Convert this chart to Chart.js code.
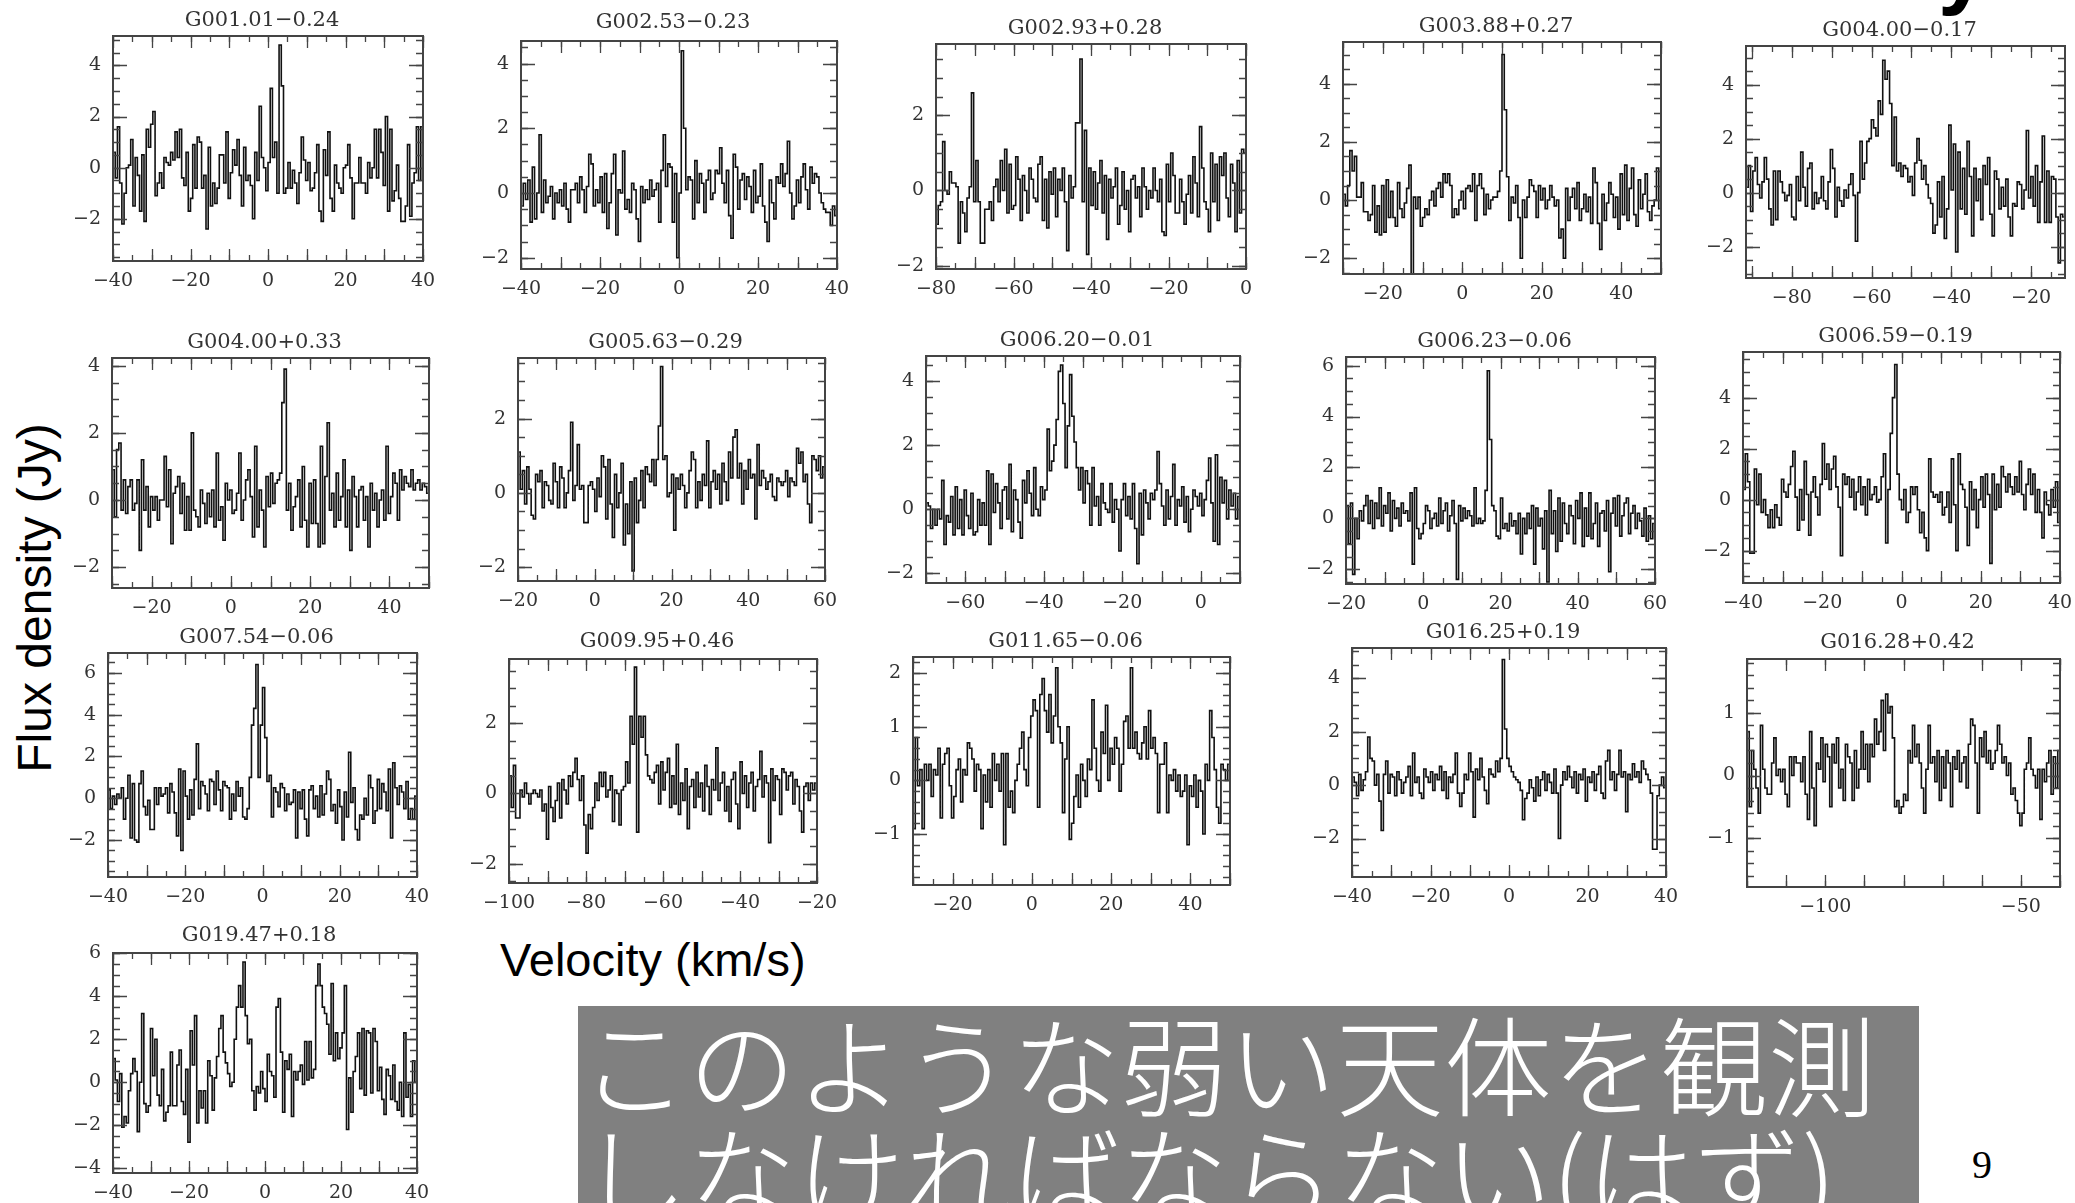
<!DOCTYPE html>
<html lang="ja">
<head>
<meta charset="UTF-8">
<title>OH maser spectra</title>
<script src="https://cdn.jsdelivr.net/npm/chart.js"></script>
<style>
  body { margin: 0; width: 2075px; height: 1203px; overflow: hidden; background: #fff; position: relative; }
  canvas.panel { position: absolute; }
  .ylab { position: absolute; left: 34px; top: 598px; transform: translate(-50%, -50%) rotate(-90deg);
          font: 48px "Liberation Sans", Arial, sans-serif; white-space: nowrap; color: #000; }
  .xlab { position: absolute; left: 500px; top: 936px; font: 47px/47px "Liberation Sans", Arial, sans-serif;
          white-space: nowrap; color: #000; }
  .note { position: absolute; left: 578px; top: 1006px; width: 1341px; height: 197px; background: #808080;
          overflow: hidden; }
  .note div { color: #fff; font: 300 108px/110px "Noto Sans CJK JP", sans-serif; white-space: nowrap; margin-left: 2px; }
  .page { position: absolute; left: 1972px; top: 1145px; font: 40px/40px "Liberation Serif", serif; color: #000; }
  .cut { position: absolute; left: 1938px; top: -79px; font: bold 90px/90px "Liberation Sans", Arial, sans-serif; color: #000; }
</style>
</head>
<body>
<div class="cut">y</div>
<div class="ylab">Flux density (Jy)</div>
<div class="xlab">Velocity (km/s)</div>
<div class="note"><div>このような弱い天体を観測</div><div>しなければならない(はず)</div></div>
<div class="page">9</div>

<script>
// source names, in reading order
const titles = [
  'G001.01\u22120.24', 'G002.53\u22120.23', 'G002.93+0.28', 'G003.88+0.27', 'G004.00\u22120.17',
  'G004.00+0.33', 'G005.63\u22120.29', 'G006.20\u22120.01', 'G006.23\u22120.06', 'G006.59\u22120.19',
  'G007.54\u22120.06', 'G009.95+0.46', 'G011.65\u22120.06', 'G016.25+0.19', 'G016.28+0.42',
  'G019.47+0.18'
];

// velocity span (km/s) and flux span (Jy) of every panel
const velRange = [[-40, 40], [-40, 40], [-80, 0], [-30, 50], [-91.5, -11.5],
  [-30, 50], [-20, 60], [-70, 10], [-20, 60], [-40, 40],
  [-40, 40], [-100, -20], [-30, 50], [-40, 40], [-120, -40], [-40, 40]];
const fluxRange = [[-3.65, 5.15], [-2.35, 4.7], [-2.09, 3.9], [-2.54, 5.43], [-3.16, 5.43],
  [-2.62, 4.23], [-2.37, 3.63], [-2.3, 4.78], [-2.58, 6.34], [-3.27, 5.79],
  [-3.77, 6.95], [-2.55, 3.83], [-1.95, 2.3], [-3.44, 5.13], [-1.78, 1.86], [-4.23, 6.02]];
const velLabelStep = [20, 20, 20, 20, 20, 20, 20, 20, 20, 20, 20, 20, 20, 20, 50, 20];
const fluxLabelStep = [2, 2, 2, 2, 2, 2, 2, 2, 2, 2, 2, 2, 1, 2, 1, 2];

// flux density per channel (Jy), channels evenly spread over velRange
const g001_01 = [
  0.6, -0.4, 1.6, -0.6, -2.2, -1.0, 0.0, 0.1, 1.1, -1.5,
  0.4, -0.3, -1.7, 0.5, -2.1, 1.5, 0.8, 1.7, 2.2, -1.1,
  -0.6, -0.2, -0.8, 0.4, 0.2, 0.1, 0.6, 0.3, 1.4, 0.4,
  1.5, -0.4, -0.7, 0.6, -1.7, -1.2, 0.9, -0.8, 1.2, 1.0,
  -0.8, -0.3, -2.4, 0.8, -1.5, -0.6, -1.4, -0.8, 0.5, 0.5,
  -0.6, 1.4, -1.2, -0.2, 0.7, 0.1, 1.1, -0.3, -1.5, 0.8,
  -0.5, -0.3, -0.7, -2.0, 0.6, -0.5, 2.4, 0.4, 0.0, -0.9,
  0.2, 3.1, 0.4, 1.0, -1.0, 4.8, 3.2, -1.0, -0.8, 0.2,
  -0.8, -0.1, -0.6, -1.4, -0.2, 1.2, 0.3, -0.5, 0.2, -0.9,
  -0.8, -0.2, 0.9, -1.7, -2.1, 0.7, -0.3, 1.4, -1.2, -1.7,
  0.1, -0.6, -0.8, -1.0, 0.0, 0.1, 0.9, -0.4, -2.0, -0.6,
  -0.6, 0.4, -0.6, -0.6, -1.0, 0.2, -0.4, 0.0, 1.5, -0.4,
  1.5, 0.6, -0.7, 2.0, -1.7, 1.5, -1.3, -0.9, 0.1, -1.2,
  -2.1, -2.1, -1.5, 0.9, -1.9, -0.6, -0.2, 1.6, -0.5, 1.6];
const g002_53 = [
  -0.4, 0.3, -0.2, 0.4, -0.9, 0.8, -0.8, 0.0, 1.8, -0.6,
  0.4, -0.3, -0.1, 0.2, -0.8, 0.0, -0.3, 0.1, -0.4, 0.3,
  -0.5, -0.9, 0.1, 0.1, 0.3, -0.3, 0.5, 0.1, -0.6, 0.2,
  1.2, 0.9, -0.4, 0.1, -0.3, 0.5, -0.6, 0.6, -1.1, -0.3,
  0.6, 1.2, -1.3, 0.1, 0.0, 1.3, -0.5, -0.2, -0.6, 0.3,
  0.1, -0.8, -1.5, 0.2, -0.3, 0.1, -0.2, 0.4, -0.1, 0.1,
  0.3, -0.9, 0.7, 1.8, 0.2, 0.9, 0.8, -0.9, 0.6, -2.0,
  0.0, 4.4, 2.0, 0.1, 0.5, 0.4, -0.8, 1.0, -0.3, 0.6,
  0.3, -0.6, 0.4, 0.7, -0.2, 0.0, 0.7, 0.6, 1.4, 0.3,
  -0.3, 0.7, -0.7, -1.4, 1.2, 0.8, -0.5, 0.4, 0.6, -0.2,
  0.5, 0.2, -0.6, 0.7, -0.3, -0.1, 0.9, -0.4, -0.9, -1.5,
  0.4, -0.3, -0.8, 0.5, 0.3, 0.9, 0.2, 0.6, 1.6, 0.0,
  -0.8, -0.4, 0.4, -0.3, 0.5, 0.9, 0.1, -0.5, 0.8, 0.3,
  0.6, 0.5, 0.0, -0.3, -0.5, -0.6, -0.6, -1.0, -0.4, -0.7];
const g002_93 = [
  -0.9, -0.4, -0.3, 1.3, 0.0, -0.1, 0.5, 0.2, 0.2, 0.1,
  -1.4, -0.3, -0.6, -1.1, -0.2, 0.1, 2.6, -0.3, 0.8, -0.3,
  -1.4, -1.4, -0.5, -0.5, -0.3, -0.8, 0.1, 0.3, -0.3, 0.8,
  0.0, 1.1, -0.6, 0.7, -0.5, -0.4, 0.9, 0.3, -0.8, 0.4,
  0.0, -0.6, 0.6, 0.3, -0.2, -0.3, 0.7, 0.9, -0.8, 0.3,
  -1.0, 0.5, -0.1, 0.6, -0.7, 0.3, 0.0, 0.6, -0.3, -1.6,
  0.4, -0.2, 0.1, 1.8, 1.8, 3.5, -0.3, 1.6, -1.7, 0.6,
  -0.4, 0.5, -0.5, 0.2, 0.8, -0.6, 0.4, -1.3, 0.3, -0.2,
  0.1, 0.6, -0.9, -0.4, 0.5, -0.5, 0.0, -1.1, 0.3, 0.4,
  -0.2, 0.1, -0.7, 0.6, 0.1, -0.5, 0.0, -0.2, 0.6, 0.0,
  -0.3, 0.3, -1.1, -1.2, 0.7, -0.3, 1.0, 0.4, -0.6, -0.6,
  0.3, -0.3, -0.9, -0.1, 0.4, -0.6, 0.9, 0.2, -0.7, 1.7,
  0.6, -0.3, -0.5, -1.1, 1.0, -0.3, 0.7, -0.8, 0.9, 0.4,
  1.0, -0.2, -0.7, 0.7, 0.2, -1.1, 0.8, -0.6, 1.1, 1.0];
const g003_88 = [
  0.2, -0.2, 0.5, 1.7, 1.0, 1.5, 0.1, 0.1, 0.6, -0.4,
  -0.4, -0.7, -0.5, 0.5, -1.1, -0.2, -1.2, 0.5, -1.1, 0.7,
  -0.6, 0.3, -0.6, -0.9, 0.6, -0.3, -0.6, -0.1, 0.4, 1.2,
  -2.6, 0.1, -0.3, 0.1, -0.9, -0.6, -0.3, -0.5, 0.0, 0.3,
  -0.2, 0.4, 0.6, 0.1, 0.9, 0.6, 0.9, 0.5, -0.6, -0.3,
  -0.5, 0.0, 0.3, -0.3, 0.4, 0.5, 0.3, 0.9, -0.7, 0.5,
  0.9, 0.4, -0.5, 0.2, -0.3, 0.0, 0.1, 0.1, 0.3, 1.0,
  5.0, 3.1, 0.8, -0.7, 0.1, -0.1, 0.5, -0.6, -2.0, 0.0,
  -0.6, 0.1, 0.7, 0.5, 0.3, -0.6, 0.5, 0.0, 0.4, -0.3,
  0.0, 0.5, 0.1, -0.2, 0.0, -1.3, -1.0, -2.0, 0.4, -0.7,
  0.1, 0.4, -0.3, 0.6, -0.7, -0.3, 0.2, -0.4, 0.1, -0.8,
  1.1, 0.6, -0.8, -1.7, 0.2, -0.7, -0.1, 0.6, 0.2, -0.6,
  0.1, -1.0, 0.9, -0.5, 1.2, -0.7, 0.4, 1.1, -0.5, -0.9,
  0.7, -0.3, 0.2, 0.9, -0.4, -0.7, -0.2, 0.0, 1.1, -0.3];
const g004_00m = [
  0.2, 1.0, -0.7, 0.8, 1.3, 0.3, -0.2, 0.4, 1.3, 0.5,
  -0.6, -1.2, 0.8, -1.0, 0.8, 0.4, 0.0, -0.3, -0.1, 0.3,
  -0.9, -1.0, 0.6, -0.3, 1.5, 0.2, -0.5, 0.9, 1.1, -0.6,
  0.0, -0.4, -0.2, 0.6, -0.3, -0.6, 0.4, 1.6, 0.9, -0.9,
  0.2, -0.3, -0.5, 0.1, -0.2, 0.3, 0.7, -0.1, -1.8, 0.0,
  1.9, 0.5, 1.1, 1.9, 2.0, 2.7, 2.4, 2.1, 3.4, 2.9,
  4.9, 4.2, 4.5, 3.3, 1.0, 2.8, 0.8, 1.1, 0.6, 1.0,
  0.9, 0.4, 0.6, -0.1, 1.1, 2.0, 1.2, 0.5, 1.0, 0.3,
  -0.2, -0.4, -1.5, -1.2, 0.4, -0.9, 0.6, -1.7, -0.6, 2.5,
  0.1, 1.8, -2.2, 1.5, -0.6, 0.9, -0.8, 1.9, 0.6, -1.6,
  0.9, -0.3, 0.5, -1.0, 1.0, 0.3, 1.3, -0.8, -1.6, 0.8,
  0.5, -0.6, 0.2, -0.5, 0.5, -0.9, -1.6, -0.4, -0.5, 0.4,
  0.3, -0.6, 0.1, 2.3, -0.2, 0.6, -0.5, 1.0, -1.1, 0.4,
  2.1, -1.1, 0.8, -1.1, 0.6, 0.5, -0.9, -2.6, -0.8, -0.9];
const g004_00p = [
  0.9, -0.5, 1.5, 1.7, -0.3, 0.6, -0.4, 0.4, 0.6, -0.3,
  -0.1, 0.6, -1.5, 1.2, -0.3, 0.4, -0.8, 0.1, -0.3, 0.1,
  -0.6, 0.0, 0.0, 1.3, -0.2, 0.9, -1.3, 0.2, 0.4, 0.7,
  -0.4, 0.5, -0.9, 0.1, -0.9, 2.0, -0.3, -0.5, -0.8, 0.3,
  -0.1, -0.7, 0.2, -0.5, 0.3, -0.8, 1.4, -0.6, -0.2, -1.2,
  0.5, 0.0, 0.3, -0.4, -0.3, 0.2, 1.4, -0.6, 0.0, 0.6,
  0.9, 0.1, -1.1, 1.6, -0.8, 0.3, -0.3, -1.4, 0.7, -0.2,
  0.8, -0.1, 0.5, 0.6, 0.8, 2.9, 3.9, -0.3, 0.5, -0.9,
  -0.2, 0.1, 0.6, -0.8, 1.0, -0.6, -1.4, 0.5, -0.7, 0.6,
  -0.7, -1.4, 1.6, -1.3, 0.7, 2.3, -0.3, 0.2, -0.8, 0.8,
  -0.6, 0.1, 1.2, -0.8, 0.3, -1.5, 0.7, 0.1, -0.8, 0.3,
  0.4, -0.6, 0.1, -1.4, 0.5, -0.3, 0.2, -0.8, 0.0, 0.3,
  -0.6, 1.6, -0.4, 0.1, 0.8, 0.5, -0.6, 0.9, 0.3, 0.7,
  0.5, 0.4, 0.9, 0.3, 0.5, 0.6, 0.3, 0.5, 0.4, 0.2];
const g005_63 = [
  1.1, 0.1, 0.6, -0.3, 0.7, 0.1, -0.6, -0.7, 0.5, 0.3,
  0.6, -0.4, 0.3, 0.2, -0.2, -0.3, 0.8, 0.3, -0.4, 0.7,
  0.4, -0.4, 0.0, 0.6, 1.9, -0.2, 0.2, 1.3, 0.1, 0.2,
  -0.8, -0.8, 0.2, 0.3, 0.1, -0.5, 0.4, -0.1, 1.0, 0.7,
  -0.7, 0.9, -0.3, -1.2, 0.5, -0.4, 0.0, 0.8, -1.4, -0.3,
  -1.1, 0.3, -2.1, 0.4, -0.8, -0.2, 0.6, -0.4, 0.7, 0.5,
  0.3, 0.9, 0.2, 0.9, 1.8, 3.4, 0.9, 1.0, -0.1, 0.0,
  0.5, -1.0, 0.4, 0.1, 0.5, 0.2, -0.4, 0.0, 0.6, 1.1,
  0.9, -0.4, 0.3, -0.2, 0.5, 0.2, 1.4, -0.4, 0.3, 0.6,
  0.1, 0.5, -0.3, 0.8, 0.3, -0.2, 1.1, 0.4, 1.5, 1.7,
  0.4, 0.8, -0.3, 0.6, 0.1, 0.9, 0.4, 0.5, -0.7, 1.3,
  0.2, 0.6, 0.4, 0.1, 0.3, 0.5, -0.1, -0.2, 0.4, 0.3,
  0.2, 0.3, 0.6, -0.1, 0.4, 0.3, 0.2, 1.2, 0.8, 1.1,
  0.3, 0.5, -0.3, -0.8, 1.0, 0.9, 0.6, 1.0, 0.4, 0.7];
const g006_20 = [
  0.2, 0.1, -0.6, 0.0, -0.5, 0.0, -0.3, 0.9, -1.1, -0.2,
  -0.4, 0.4, -0.8, 0.7, -0.6, 0.3, -0.8, 0.6, -0.2, -0.6,
  0.5, -0.8, -0.7, 0.3, -0.5, 0.2, -0.5, 1.2, -1.1, 1.1,
  -0.1, 0.8, 0.2, -0.6, 0.6, 0.7, -0.3, 1.4, -0.7, 0.6,
  0.3, -0.4, -0.9, 0.9, 0.2, 1.2, 0.5, -0.2, 1.3, 0.0,
  -0.2, 0.7, 0.3, 0.6, 2.5, 1.2, 1.5, 2.0, 2.8, 4.3,
  4.5, 3.3, 1.3, 2.6, 4.2, 2.9, 2.1, 1.3, 0.6, 1.3,
  0.2, 1.2, 0.8, -0.5, 1.3, 0.1, 0.4, -0.5, 0.8, 0.2,
  0.0, -0.1, 0.8, -0.4, 0.3, 0.0, -1.3, 0.3, 0.8, -0.2,
  0.4, -0.3, 0.8, -0.6, -1.7, 0.5, -0.8, 0.6, 0.2, -0.3,
  0.5, 0.3, 0.6, 1.8, 0.8, 0.1, -0.5, 0.6, -0.3, 0.4,
  1.4, -0.5, 0.3, 0.1, 0.7, -0.4, 0.4, -0.7, 0.0, 0.6,
  0.4, 0.1, 0.5, -0.2, 0.3, 0.9, 1.6, 0.2, -1.0, 1.7,
  -1.1, 1.0, 0.2, 0.9, -0.3, 0.6, 0.1, 0.5, -0.3, 0.4];
const g006_23 = [
  0.5, -1.0, 0.6, -2.2, 0.0, -0.8, 0.3, -0.1, 0.5, 0.9,
  -0.2, 0.7, -0.4, 0.6, 0.0, 1.2, -0.3, 0.5, 0.2, 1.0,
  -0.5, 0.7, 0.0, 0.4, -0.3, 0.6, 0.2, 0.3, -0.1, 1.0,
  -1.8, 1.2, -0.4, -0.8, -0.6, -0.2, 0.5, 0.3, -0.4, 0.0,
  0.2, -0.3, 0.8, -0.2, 0.3, 0.6, -0.5, 0.1, 0.7, -0.2,
  -2.4, 0.5, -0.1, 0.4, 0.0, 0.3, 0.1, -0.3, 1.2, -0.2,
  0.0, -0.2, -0.1, 1.1, 5.8, 3.1, 0.5, 0.3, -0.7, -0.8,
  0.8, -0.4, -0.2, -0.5, 0.2, -0.3, -0.1, -0.6, 0.2, -1.4,
  0.0, -0.6, 0.2, -0.4, 0.5, -1.8, 0.4, -0.3, 0.0, -1.2,
  0.3, -2.5, 1.1, -0.6, 0.3, -1.3, 0.8, -0.9, 0.6, -0.2,
  -0.6, 0.5, 0.1, -1.0, 0.7, 0.0, 1.0, -1.1, 0.4, -0.7,
  1.0, -0.8, -0.2, 0.6, -1.1, 0.2, 0.3, -0.5, 0.7, -2.1,
  0.2, 0.8, -0.3, 0.9, -0.7, 0.1, 0.6, 0.8, -0.6, 0.2,
  0.5, -0.4, 0.2, -0.1, -0.7, 0.4, -0.9, 0.1, -0.8, -0.2];
const g006_59 = [
  0.4, 1.8, 0.7, -2.1, -2.1, 1.2, -0.2, 1.0, -0.5, 0.0,
  -0.6, -1.1, -0.4, -1.1, -0.2, -0.7, -1.0, 0.8, 0.3, 0.1,
  0.6, 1.3, 1.9, 0.1, -1.2, 0.4, -0.8, 1.5, 0.2, -1.4,
  0.3, 0.9, 0.1, -0.6, 0.6, 2.2, 0.8, 1.4, 0.4, 1.2,
  1.7, 0.5, -0.3, -2.2, 1.0, 0.6, 0.9, 0.1, 0.8, -0.4,
  0.3, 0.9, -0.2, 0.5, -0.6, 0.8, 0.0, 0.2, 0.5, -0.1,
  0.0, 0.9, 1.8, -1.7, 0.4, 2.6, 4.0, 5.3, 1.0, 0.0,
  -0.4, 0.4, -0.9, -0.5, 0.5, 0.2, 0.5, -0.4, -1.3, -0.5,
  -1.5, -2.0, 1.6, 0.3, 0.1, 0.2, -0.1, 0.3, -0.6, -0.3,
  0.3, -0.9, 1.6, -0.2, -2.0, 1.8, 0.6, 0.4, -0.3, -1.8,
  0.7, -0.4, 0.4, -1.1, 0.0, 0.9, -0.3, 1.0, 0.2, -2.5,
  1.0, -0.4, 0.6, -0.3, 1.3, 0.9, 0.3, 1.0, 0.5, 0.2,
  0.9, 0.3, 1.5, 0.2, -0.4, 0.6, 1.2, 0.2, 1.0, -0.5,
  0.4, -0.5, -1.5, 0.3, -0.2, -0.6, 0.4, -0.3, 0.7, -0.9];
const g007_54 = [
  0.4, -0.5, 0.1, -0.3, 0.2, 0.0, 0.5, -1.0, 0.0, 1.1,
  -1.9, 0.7, -2.0, -2.1, 0.7, 1.3, -0.4, -0.8, -0.1, -1.5,
  -1.5, 0.5, -0.3, 0.5, 0.1, 0.2, 0.5, -0.7, 0.7, 0.3,
  -0.7, -1.8, 1.4, -2.5, 1.3, 0.1, -1.0, 0.4, -0.8, 0.9,
  2.6, -0.5, 0.8, 0.6, 0.2, -0.6, 0.9, 0.8, -0.3, 1.3,
  0.4, -0.6, 0.8, 0.6, 0.5, -1.0, 0.2, -0.6, 0.8, 0.1,
  0.5, -0.9, -1.0, -0.5, 1.0, 3.5, 4.3, 6.4, 1.0, 3.5,
  5.3, 2.9, 0.8, 1.1, -0.9, 0.5, 0.3, -0.4, 0.7, 0.5,
  -0.6, 0.2, -0.3, -0.2, 0.4, -1.9, 0.3, -0.5, 0.4, -1.0,
  -1.8, 0.4, 0.6, -0.5, 0.1, -0.9, 0.6, -0.8, 0.2, 1.3,
  0.9, -0.6, -0.3, -1.2, 0.4, -0.4, -2.0, 0.3, -0.9, 2.2,
  -0.2, 0.5, -1.5, -2.0, -0.8, -1.0, 0.0, -0.8, 1.1, 0.5,
  -1.2, -0.6, 0.9, -0.5, 0.7, 0.3, -0.6, 1.4, -1.9, 1.7,
  0.5, -0.3, 0.6, 0.3, -0.5, 0.8, -1.0, -0.5, -1.0, 0.1];
const g009_95 = [
  0.5, -0.4, 0.8, -0.7, -0.7, 0.1, -0.1, 0.3, 0.0, -0.3,
  0.0, 0.1, 0.0, -0.1, 0.1, -0.5, -0.3, -1.3, 0.2, -0.4,
  -0.8, -0.2, 0.3, -0.7, 0.4, 0.1, -0.3, 0.5, 0.2, 0.6,
  1.0, 0.4, -0.2, 0.5, -0.9, -1.7, -0.6, -1.0, -0.4, 0.3,
  -0.2, 0.6, 0.2, 0.6, -0.1, 0.1, 0.5, -0.8, 0.1, 0.0,
  -0.9, 0.1, 0.2, 0.9, 0.3, 2.2, 1.4, 3.6, -1.1, 2.2,
  1.6, 2.2, 1.1, 0.5, 0.4, 0.3, 0.6, 0.8, -0.3, 0.9,
  0.1, 0.6, 1.0, -0.4, 0.5, -0.3, 1.4, -0.6, 0.3, -0.2,
  0.7, -1.0, 0.2, 0.4, -0.4, 0.6, -0.1, 0.3, -0.5, 0.8,
  0.2, -0.6, 0.4, 0.1, 1.3, -0.2, 0.3, 0.6, -0.5, 0.2,
  -0.8, 0.4, 0.6, -0.3, -1.0, 0.9, 0.0, 0.5, -0.4, 0.3,
  0.6, -0.5, 0.2, 0.4, 1.2, -0.1, 0.5, 0.3, -1.4, 0.7,
  -0.2, 0.5, 0.4, -0.6, 0.7, 0.6, 0.1, 0.5, 0.6, -0.3,
  0.4, 0.2, -0.5, -1.1, 0.2, 0.3, -0.2, 0.3, 0.1, 0.3];
const g011_65 = [
  -0.9, 0.8, -0.1, 0.2, -0.9, 0.3, 0.0, 0.3, -0.3, 0.2,
  0.1, 0.6, -0.7, 0.3, 0.5, 0.6, -0.1, -0.7, -0.3, 0.2,
  0.4, -0.4, 0.2, 0.1, 0.7, 0.6, 0.4, -0.2, 0.3, 0.2,
  -0.9, 0.1, -0.4, 0.2, -0.5, 0.5, 0.0, 0.3, -0.2, 0.5,
  -1.2, 0.5, -0.5, -0.2, -0.6, 0.0, 0.3, 0.6, 0.9, 0.2,
  -0.1, 0.8, 1.2, 1.5, 1.3, -0.5, 1.6, 1.9, 1.3, 0.9,
  1.6, 0.7, 1.2, 2.1, 1.0, 0.7, -0.6, 0.4, 1.0, -1.1,
  -0.8, -0.3, 0.1, -0.5, 0.3, 0.0, -0.3, 0.4, 0.2, 1.5,
  0.6, 0.0, -0.2, 0.9, 0.5, 1.4, 0.0, 0.6, 0.3, 0.8,
  0.6, -0.2, 0.3, 1.1, 1.2, 0.6, 2.1, 0.6, 0.9, 0.5,
  0.4, 0.7, 1.0, 0.4, 1.3, 0.6, 0.8, 0.5, -0.6, 0.3,
  0.3, 0.7, -0.6, 0.1, 0.0, 0.2, -0.2, 0.1, -0.3, -0.2,
  0.1, -1.2, -0.1, -0.3, 0.1, -0.5, 0.0, -0.2, -1.0, 0.3,
  0.0, 1.3, 0.8, 0.2, -0.5, -0.8, 0.3, 0.2, 0.0, 0.3];
const g016_25 = [
  0.3, 0.1, -0.4, 0.4, -0.2, 0.2, 0.5, 1.8, 1.0, 0.9,
  0.0, 0.4, -0.6, -1.7, 0.4, 0.9, -0.3, 0.4, 0.3, -0.4,
  0.5, 0.2, -0.3, 0.1, 0.3, 0.7, -0.4, 1.2, 0.1, 0.3,
  -0.3, -0.5, 0.6, 0.3, 0.1, 0.5, -0.2, 0.4, 0.2, 0.7,
  -0.2, 0.5, -0.5, 0.3, 0.1, 0.4, 1.2, -0.3, -0.8, -0.3,
  0.4, 0.2, 1.2, 0.5, -1.2, 0.6, 0.2, 1.0, 0.3, -0.2,
  -0.7, 0.6, 0.4, 0.3, 0.9, 0.5, 1.0, 4.7, 2.1, 1.0,
  0.7, 0.5, 0.3, 0.2, 0.1, -0.2, -1.3, -0.5, -0.3, 0.2,
  -0.1, -0.6, 0.3, -0.4, 0.2, 0.5, -0.2, 0.4, 0.1, -0.3,
  0.6, -0.3, -2.0, 0.0, 0.5, 0.2, 0.7, 0.3, -0.1, 0.5,
  -0.3, 0.4, 0.2, 0.6, -0.6, 0.3, 0.1, 0.5, -0.2, 0.4,
  0.7, -0.3, -0.5, 0.9, 1.3, 0.2, 0.5, -0.2, 0.4, 1.3,
  0.3, 0.5, -1.0, 0.4, 0.2, 0.8, 0.3, 0.5, 0.1, 0.9,
  0.6, 0.4, 0.2, -0.3, -2.4, -2.4, -0.4, 0.0, 0.3, -0.1];
const g016_28 = [
  0.7, -0.5, 0.4, 0.1, -0.2, -0.6, 0.8, 0.1, -0.2, -0.3,
  -0.3, 0.2, 0.6, 0.0, 0.1, -0.1, 0.1, -0.3, -0.5, 0.3,
  0.0, 0.3, 0.2, 0.2, -0.1, 0.3, -0.3, -0.7, 0.7, -0.2,
  -0.8, 0.2, 0.1, 0.6, -0.1, 0.5, 0.3, -0.5, 0.5, 0.2,
  0.6, -0.2, 0.1, -0.4, 0.5, 0.3, 0.2, -0.4, 0.4, -0.2,
  0.1, 0.7, 0.1, 0.5, -0.1, 0.5, 0.3, 0.9, 0.5, 0.7,
  1.2, 0.4, 1.3, 1.0, 1.1, 0.6, -0.5, -0.4, -0.6, -0.5,
  -0.3, -0.4, 0.4, 0.2, 0.8, 0.3, 0.5, 0.2, -0.2, -0.6,
  0.1, 0.8, 0.2, 0.3, -0.1, 0.4, -0.4, 0.3, -0.2, 0.4,
  0.2, -0.5, 0.3, 0.1, 0.4, -0.1, 0.2, 0.3, -0.2, 0.5,
  0.9, 0.8, 0.2, -0.6, 0.6, 0.3, 0.7, 0.2, 0.4, 0.1,
  0.2, 0.4, 0.8, 0.5, 0.2, 0.3, 0.0, 0.2, -0.3, -0.2,
  -0.4, -0.6, -0.8, -0.6, 0.1, 0.2, 0.6, 0.1, 0.0, -0.2,
  0.1, -0.7, 0.1, -0.1, 0.2, 0.4, -0.3, 0.3, -0.2, 0.4];
const g019_47 = [
  1.1, 0.1, -0.9, 0.4, -2.1, -1.6, -1.9, -0.4, 0.4, 1.1,
  0.5, -2.3, 0.0, 3.2, -1.0, -1.4, -1.1, 2.5, 0.3, 2.0,
  -0.6, -1.1, 0.6, -1.8, -1.4, -1.1, 1.4, -1.1, -1.1, 0.8,
  1.5, -0.9, -1.5, 0.6, -2.8, 2.4, 0.8, 3.1, -1.9, -0.4,
  -1.2, -0.4, -1.9, 1.0, 0.3, -1.3, 0.2, 1.2, 2.5, 3.1,
  1.4, 0.9, 0.4, -0.2, 0.0, 2.0, 3.5, 4.5, 3.5, 5.6,
  3.1, 1.8, 2.0, -0.4, -1.3, -0.2, -0.5, 0.5, -0.3, -0.9,
  1.3, 0.5, 0.3, -0.7, 3.5, 3.9, 1.4, -1.4, 1.0, 0.6,
  1.3, -1.6, 0.5, 0.1, 0.5, 0.8, -0.1, 1.9, 0.1, 1.9,
  0.2, 0.6, 4.5, 5.5, 4.5, 3.5, 3.2, 2.7, 1.3, 4.6,
  1.0, 2.3, 1.1, 1.6, 2.3, 4.5, -2.2, 0.2, -1.4, 0.5,
  1.2, 2.3, -0.3, 2.5, -0.6, 2.4, 2.3, -0.5, 2.5, 1.9,
  -0.4, 0.7, -0.8, -1.5, 0.6, 0.3, -0.8, 0.8, -0.9, -1.3,
  0.0, -1.6, 2.3, -0.7, -0.1, -1.6, 1.0, 0.0];

const spectra = [g001_01, g002_53, g002_93, g003_88, g004_00m,
  g004_00p, g005_63, g006_20, g006_23, g006_59,
  g007_54, g009_95, g011_65, g016_25, g016_28, g019_47];

// page layout: plot frame [left, top, right, bottom] of every panel
const frames = [
  [113, 36, 423, 261], [521, 41, 837, 269], [936, 44, 1246, 269], [1343, 42, 1661, 274], [1746, 46, 2065, 278],
  [112, 358, 429, 588], [518, 358, 825, 581], [926, 356, 1240, 583], [1346, 357, 1655, 584], [1743, 352, 2060, 583],
  [108, 653, 417, 877], [509, 659, 817, 883], [913, 657, 1230, 885], [1352, 648, 1666, 877], [1747, 659, 2060, 887],
  [113, 953, 417, 1173]];
const titleGap = [15, 18, 15, 15, 15, 15, 15, 15, 15, 15, 15, 17, 15, 15, 16, 17];

const ML = 62, MT = 40, MR = 32, MB = 44;
const ink = '#333';

const minus = v => {
  const r = Math.round(v * 100) / 100;
  return r < 0 ? '\u2212' + Math.abs(r) : String(Math.abs(r));
};

// put the labelled ticks on round multiples of the step, whatever the axis ends are
const roundTicks = step => scale => {
  const out = [];
  for (let k = Math.ceil(scale.min / step - 1e-6); k * step <= scale.max + 1e-6; k++) {
    out.push({value: k * step});
  }
  scale.ticks = out;
};

// box frame with inward ticks on all four sides, plus the source name
const frameTicks = {
  id: 'frameTicks',
  afterDraw(chart, args, o) {
    const {ctx, chartArea: a, scales: {x, y}} = chart;
    ctx.save();
    ctx.strokeStyle = '#444';
    ctx.lineWidth = 1.3;
    const mark = (scale, step, len, horiz) => {
      const first = Math.ceil(scale.min / step - 1e-6);
      for (let k = first; k * step <= scale.max + 1e-6; k++) {
        const p = Math.round(scale.getPixelForValue(k * step)) + 0.5;
        ctx.beginPath();
        if (horiz) {
          ctx.moveTo(p, a.bottom); ctx.lineTo(p, a.bottom - len);
          ctx.moveTo(p, a.top); ctx.lineTo(p, a.top + len);
        } else {
          ctx.moveTo(a.left, p); ctx.lineTo(a.left + len, p);
          ctx.moveTo(a.right, p); ctx.lineTo(a.right - len, p);
        }
        ctx.stroke();
      }
    };
    mark(x, o.xMinor, 6, true);
    mark(x, o.xMajor, 12, true);
    mark(y, o.yMinor, 7, false);
    mark(y, o.yMajor, 14, false);
    ctx.lineWidth = 2;
    ctx.strokeRect(a.left, a.top, a.right - a.left, a.bottom - a.top);
    ctx.fillStyle = ink;
    ctx.font = '21px "DejaVu Serif"';
    ctx.textAlign = 'center';
    ctx.textBaseline = 'middle';
    ctx.fillText(o.title, (a.left + a.right) / 2 - 6, a.top - o.gap);
    ctx.restore();
  }
};

spectra.forEach((vals, i) => {
  const [l, t, r, b] = frames[i];
  const [vmin, vmax] = velRange[i];
  const [fmin, fmax] = fluxRange[i];
  const dv = (vmax - vmin) / vals.length;
  const points = vals.map((f, k) => ({x: vmin + (k + 0.5) * dv, y: f}));

  const canvas = document.createElement('canvas');
  canvas.className = 'panel';
  canvas.width = (r - l) + ML + MR;
  canvas.height = (b - t) + MT + MB;
  canvas.style.left = (l - ML) + 'px';
  canvas.style.top = (t - MT) + 'px';
  document.body.appendChild(canvas);

  const tickFont = {family: 'DejaVu Serif', size: 19};
  const fluxStep = fluxLabelStep[i];
  new Chart(canvas.getContext('2d'), {
    type: 'line',
    data: {
      datasets: [{
        data: points,
        stepped: 'middle',
        borderColor: '#111',
        borderWidth: 1.6,
        pointRadius: 0,
        fill: false
      }]
    },
    options: {
      responsive: false,
      animation: false,
      events: [],
      layout: {padding: {left: 0, top: MT, right: MR, bottom: 0}},
      plugins: {
        legend: {display: false},
        tooltip: {enabled: false},
        frameTicks: {
          title: titles[i], gap: titleGap[i],
          xMajor: 10, xMinor: velLabelStep[i] === 50 ? 10 : 5,
          yMajor: fluxStep, yMinor: fluxStep === 1 ? 0.2 : 0.5
        }
      },
      scales: {
        x: {
          type: 'linear', min: vmin, max: vmax,
          grid: {display: false, drawTicks: false},
          border: {display: false},
          ticks: {autoSkip: false, maxRotation: 0,
                  padding: 9, font: tickFont, color: ink, callback: minus},
          afterBuildTicks: roundTicks(velLabelStep[i]),
          afterFit: s => { s.height = MB; }
        },
        y: {
          min: fmin, max: fmax,
          grid: {display: false, drawTicks: false},
          border: {display: false},
          ticks: {autoSkip: false, padding: 12, font: tickFont, color: ink, callback: minus},
          afterBuildTicks: roundTicks(fluxStep),
          afterFit: s => { s.width = ML; }
        }
      }
    },
    plugins: [frameTicks]
  });
});
</script>
</body>
</html>
